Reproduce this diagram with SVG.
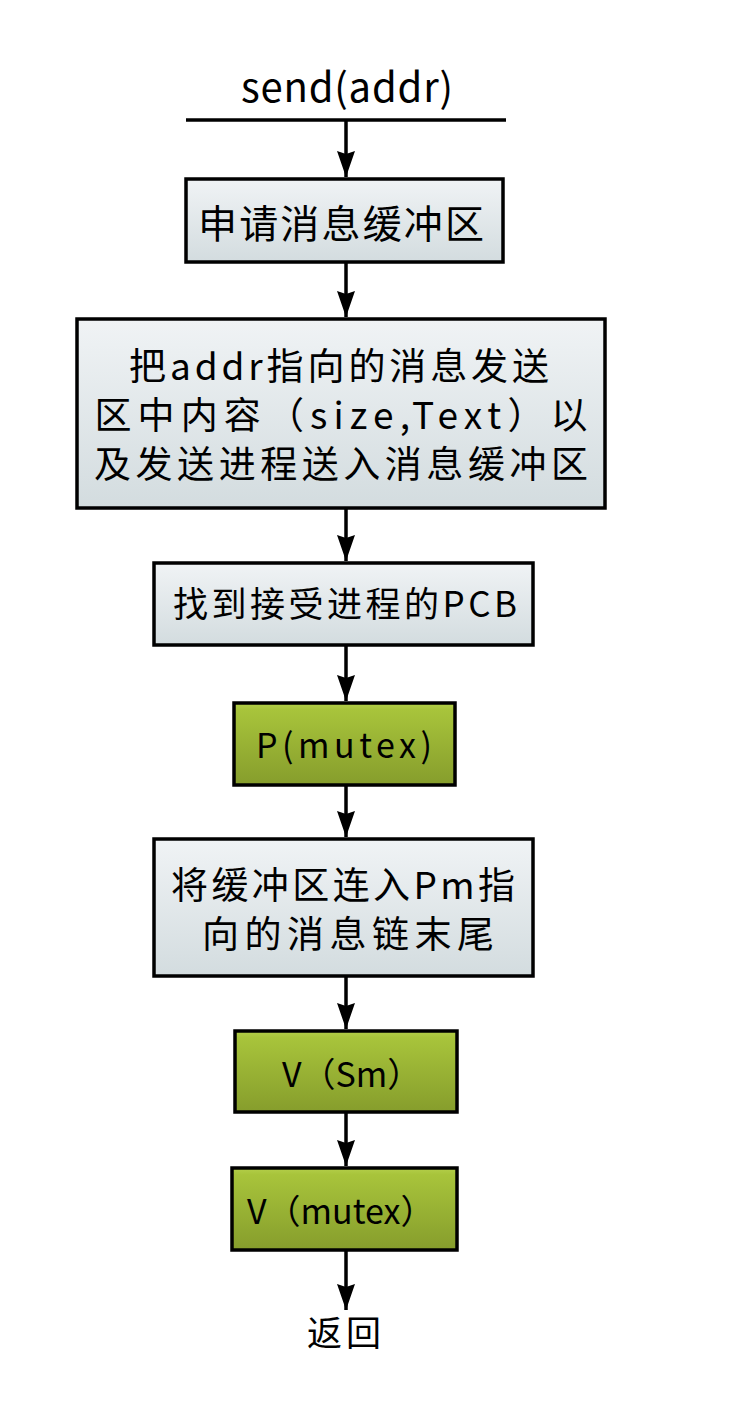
<svg xmlns="http://www.w3.org/2000/svg" width="737" height="1407" viewBox="0 0 737 1407">
<defs>
<linearGradient id="gGray" x1="0" y1="0" x2="0" y2="1">
<stop offset="0" stop-color="#f0f3f5"/>
<stop offset="1" stop-color="#d3dcdf"/>
</linearGradient>
<linearGradient id="gGreen" x1="0" y1="0" x2="0" y2="1">
<stop offset="0" stop-color="#b4cf4a"/>
<stop offset="0.08" stop-color="#a8c43b"/>
<stop offset="1" stop-color="#869d2c"/>
</linearGradient>
<marker id="arr" viewBox="0 0 26 18" refX="26" refY="9" markerWidth="26" markerHeight="18" markerUnits="userSpaceOnUse" orient="auto">
<path d="M0,0 L26,9 L0,18 L3,9 Z" fill="#000"/>
</marker>
</defs>
<style>
.gray{fill:url(#gGray);stroke:#000;stroke-width:3.5}
.green{fill:url(#gGreen);stroke:#000;stroke-width:3.5}
.t{font-family:"Noto Sans CJK SC","Noto Sans",sans-serif;fill:#000;text-anchor:middle}
.s{font-family:"Noto Sans CJK SC","Noto Sans",sans-serif;fill:#000}
.edge{stroke:#000;stroke-width:3.5;fill:none;marker-end:url(#arr)}
</style>
<rect width="737" height="1407" fill="#fff"/>
<g id="start">
<text class="t" x="347" y="102" font-size="40" textLength="212">send(addr)</text>
<line x1="186" y1="120" x2="506" y2="120" stroke="#000" stroke-width="3.5"/>
</g>
<g id="n1">
<rect class="gray" x="186" y="179" width="317" height="83"/>
<text class="t" x="341" y="238" font-size="39" textLength="286">申请消息缓冲区</text>
</g>
<g id="n2">
<rect class="gray" x="77" y="319" width="528" height="189"/>
<text class="t" x="339" y="380" font-size="37" textLength="420">把addr指向的消息发送</text>
<text class="t" x="341" y="429" font-size="37" textLength="493">区中内容（size,Text）以</text>
<text class="t" x="341" y="478" font-size="37" textLength="494">及发送进程送入消息缓冲区</text>
</g>
<g id="n3">
<rect class="gray" x="154" y="563" width="379" height="82"/>
<text class="t" x="345" y="617" font-size="35" textLength="344">找到接受进程的PCB</text>
</g>
<g id="n4">
<rect class="green" x="234" y="703" width="221" height="82"/>
<text class="t" x="344" y="758" font-size="34" textLength="176">P(mutex)</text>
</g>
<g id="n5">
<rect class="gray" x="154" y="839" width="379" height="137"/>
<text class="t" x="343" y="899" font-size="37" textLength="344">将缓冲区连入Pm指</text>
<text class="t" x="348" y="948" font-size="37" textLength="292">向的消息链末尾</text>
</g>
<g id="n6">
<rect class="green" x="235" y="1031" width="222" height="81"/>
<text class="s" x="282" y="1087" font-size="34">V（Sm）</text>
</g>
<g id="n7">
<rect class="green" x="232" y="1168" width="225" height="82"/>
<text class="s" x="247" y="1224" font-size="34">V（mutex）</text>
</g>
<g id="end">
<text class="t" x="344" y="1346" font-size="35" textLength="74">返回</text>
</g>
<g id="connectors">
<line class="edge" x1="346" y1="120" x2="346" y2="177"/>
<line class="edge" x1="346" y1="262" x2="346" y2="317"/>
<line class="edge" x1="346" y1="508" x2="346" y2="561"/>
<line class="edge" x1="346" y1="645" x2="346" y2="701"/>
<line class="edge" x1="346" y1="785" x2="346" y2="837"/>
<line class="edge" x1="346" y1="976" x2="346" y2="1029"/>
<line class="edge" x1="346" y1="1112" x2="346" y2="1166"/>
<line class="edge" x1="346" y1="1250" x2="346" y2="1310"/>
</g>
</svg>
